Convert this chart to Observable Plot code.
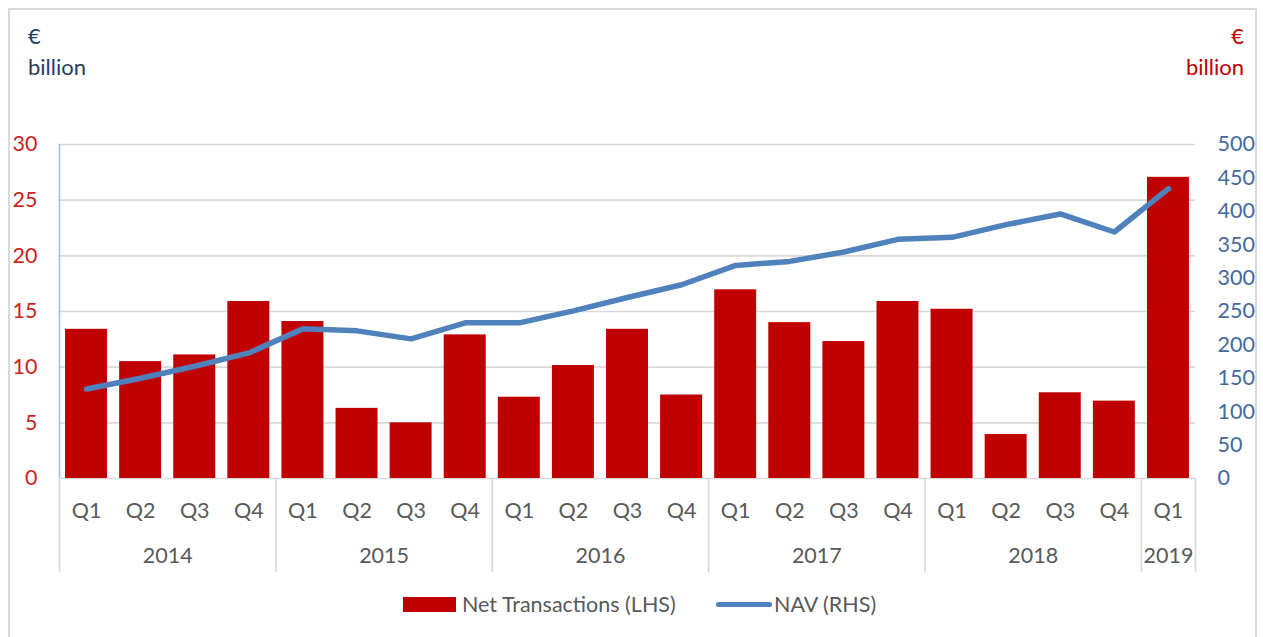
<!DOCTYPE html>
<html>
<head>
<meta charset="utf-8">
<script src="https://cdn.jsdelivr.net/npm/d3@7"></script>
<script src="https://cdn.jsdelivr.net/npm/@observablehq/plot@0.6"></script>
<style>
  html, body { margin: 0; padding: 0; background: #fff; }
  body { font-family: Lato, "Open Sans", sans-serif; }
  #wrap { position: relative; width: 1263px; height: 637px; overflow: hidden; }
  #frame { position: absolute; left: 8px; top: 8px; width: 1249px; height: 640px; border: 2px solid #d9d9d9; box-sizing: border-box; }
  #chart { position: absolute; left: 0; top: 0; }
  .unit { position: absolute; font-size: 22px; line-height: 31px; }
  #unitL { left: 28px; top: 20px; color: #243f60; }
  #unitR { right: 19px; top: 20px; color: #c00000; text-align: right; }
  #legend { position: absolute; top: 592px; left: 0; width: 1263px; font-size: 21.5px; color: #595959; }
  .lg { position: absolute; display: flex; align-items: center; height: 24px; }
  .sw-bar { width: 53px; height: 15px; background: #c00000; margin-right: 6px; }
  .sw-line { width: 56px; height: 5px; border-radius: 3px; background: #4f81bd; margin-right: 2px; }
</style>
</head>
<body>
<div id="wrap">
  <div id="frame"></div>
  <div id="chart"></div>
  <div class="unit" id="unitL">€<br>billion</div>
  <div class="unit" id="unitR">€<br>billion</div>
  <div id="legend">
    <div class="lg" style="left:403px"><div class="sw-bar"></div><span>Net Transactions (LHS)</span></div>
    <div class="lg" style="left:716px"><div class="sw-line"></div><span>NAV (RHS)</span></div>
  </div>
</div>
<script>
const years = ["2014", "2015", "2016", "2017", "2018", "2019"];
const yearQuarterCounts = [4, 4, 4, 4, 4, 1];
const quarterLabels = ["Q1","Q2","Q3","Q4","Q1","Q2","Q3","Q4","Q1","Q2","Q3","Q4","Q1","Q2","Q3","Q4","Q1","Q2","Q3","Q4","Q1"];
const netTransactions = [13.4, 10.5, 11.1, 15.9, 14.1, 6.3, 5.0, 12.9, 7.3, 10.15, 13.4, 7.5, 16.95, 14.0, 12.3, 15.9, 15.2, 3.95, 7.7, 6.95, 27.05];
const nav = [134, 150, 168, 188, 224, 221, 209, 233, 233, 251, 271, 290, 319, 325, 339, 358, 361, 380, 396, 369, 434];
const leftTicks = [0, 5, 10, 15, 20, 25, 30];
const rightTicks = [0, 50, 100, 150, 200, 250, 300, 350, 400, 450, 500];

const leftMax = 30, rightMax = 500;
const toLeft = v => v * leftMax / rightMax;
const data = netTransactions.map((v, i) => ({i, v, nav: nav[i]}));
const n = data.length;
const pad = 0.112;

// year boundaries and centers
const boundaries = [0];
const yearCenters = [];
{
  let s = 0;
  yearQuarterCounts.forEach(c => { yearCenters.push(s + c / 2); s += c; boundaries.push(s); });
}
const centers = data.map(d => d.i + 0.5);

const chart = Plot.plot({
  width: 1263,
  height: 637,
  marginLeft: 59,
  marginRight: 68,
  marginTop: 144,
  marginBottom: 159,
  x: {domain: [0, n], axis: null},
  y: {domain: [0, leftMax], axis: null, label: null},
  style: {fontFamily: "Lato, 'Open Sans', sans-serif", fontSize: "21.5px", background: "transparent", overflow: "visible"},
  marks: [
    Plot.ruleY(leftTicks, {stroke: "#d9d9d9", strokeWidth: 1.6}),
    Plot.rectY(data, {x1: d => d.i + pad, x2: d => d.i + 1 - pad, y: "v", fill: "#c00000"}),
    Plot.line(data, {x: d => d.i + 0.5, y: d => toLeft(d.nav), stroke: "#4f81bd", strokeWidth: 5.5, strokeLinecap: "round", strokeLinejoin: "round"}),
    Plot.ruleX([0], {y1: 0, y2: leftMax, stroke: "#9dc3e6", strokeWidth: 1.6}),
    Plot.axisY({ticks: leftTicks, tickSize: 0, tickPadding: 22, fill: "#cc1f1f", label: null}),
    Plot.axisY({anchor: "right", ticks: rightTicks.map(toLeft), tickFormat: d => String(Math.round(d * rightMax / leftMax)), tickSize: 0, tickPadding: 22, textAnchor: "start", fill: "#44699d", label: null}),
    Plot.axisX({ticks: boundaries, tickSize: 94, tickFormat: () => "", stroke: "#d9d9d9", strokeWidth: 1.6, label: null}),
    Plot.axisX({ticks: centers, tickFormat: d => quarterLabels[Math.floor(d)], tickSize: 0, tickPadding: 24, fill: "#595959", label: null}),
    Plot.axisX({ticks: yearCenters, tickFormat: d => years[yearCenters.indexOf(d)], tickSize: 0, tickPadding: 69, fill: "#595959", label: null})
  ]
});
document.getElementById("chart").appendChild(chart);
</script>
</body>
</html>
